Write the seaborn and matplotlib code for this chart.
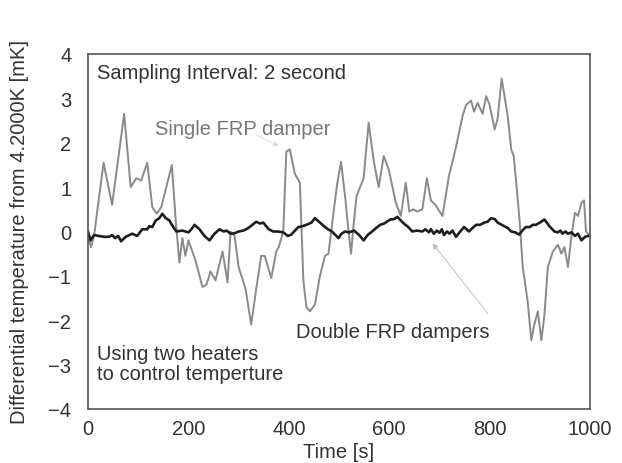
import matplotlib
matplotlib.use("Agg")
import matplotlib.pyplot as plt
import seaborn as sns
import pandas as pd

single_t = [0, 6, 12, 31, 48, 72, 85, 96, 106, 112, 118, 128, 137, 146, 167, 175, 182, 188, 194, 200,
            214, 228, 236, 244, 254, 268, 278, 284, 292, 300, 314, 325, 335, 345, 352, 365, 375, 380,
            389, 395, 402, 412, 422, 429, 435, 442, 452, 462, 472, 479, 486, 496, 504, 512, 519, 524,
            529, 535, 549, 559, 569, 579, 589, 599, 613, 623, 633, 640, 648, 656, 666, 675, 683, 692,
            706, 719, 733, 746, 753, 763, 769, 776, 786, 793, 800, 810, 816, 824, 829, 836, 843, 848,
            853, 860, 866, 876, 883, 889, 896, 903, 909, 916, 926, 936, 943, 949, 956, 963, 970, 976,
            983, 988, 992, 1000]
single_v = [-0.1, -0.35, -0.1, 1.55, 0.6, 2.65, 1.0, 1.2, 1.15, 1.35, 1.55, 0.55, 0.4, 0.55, 1.5, 0.2,
            -0.7, -0.15, -0.55, -0.2, -0.65, -1.25, -1.2, -0.9, -1.1, -0.45, -1.15, 0.0, -0.1, -0.8,
            -1.3, -2.1, -1.3, -0.55, -0.55, -1.05, -0.45, -0.35, 0.0, 1.8, 1.85, 1.3, 1.1, -1.1, -1.7,
            -1.8, -1.65, -1.0, -0.55, -0.5, 0.15, 1.05, 1.57, 0.8, 0.0, -0.5, 0.15, 0.8, 1.2, 2.45,
            1.6, 1.0, 1.7, 1.4, 0.65, 0.35, 1.1, 0.45, 0.5, 0.45, 0.5, 1.2, 0.7, 0.6, 0.35, 1.25, 1.9,
            2.6, 2.85, 2.95, 2.7, 2.9, 2.65, 3.05, 2.85, 2.3, 2.55, 3.45, 3.1, 2.6, 1.85, 1.7, 1.1, 0.2,
            -0.8, -1.6, -2.45, -2.1, -1.8, -2.45, -1.9, -0.8, -0.45, -0.3, -0.5, -0.35, -0.8, -0.1,
            0.42, 0.35, 0.65, 0.7, 0.0, -0.1]

double_t = [0, 5, 12, 21, 32, 42, 48, 54, 60, 66, 75, 88, 98, 108, 118, 122, 128, 135, 142, 148, 155,
            162, 167, 176, 188, 200, 206, 212, 222, 232, 242, 252, 262, 270, 276, 284, 292, 300, 309,
            315, 322, 335, 342, 349, 360, 369, 378, 389, 398, 405, 412, 419, 428, 435, 445, 452, 460,
            469, 478, 486, 499, 505, 512, 520, 530, 540, 549, 557, 566, 574, 582, 590, 602, 610, 616,
            629, 638, 646, 655, 666, 672, 679, 683, 689, 695, 700, 705, 709, 715, 720, 726, 733, 740,
            749, 754, 759, 766, 773, 781, 789, 796, 803, 810, 816, 829, 836, 843, 851, 859, 865, 872,
            880, 886, 892, 900, 909, 914, 919, 925, 929, 936, 941, 945, 951, 956, 963, 970, 976, 983,
            990, 996, 1000]
double_v = [0.0, -0.2, -0.08, -0.1, -0.12, -0.12, -0.08, -0.15, -0.1, -0.22, -0.12, -0.05, -0.1, 0.05,
            0.05, 0.12, 0.1, 0.25, 0.3, 0.4, 0.3, 0.25, 0.15, 0.0, 0.02, -0.02, 0.05, 0.15, 0.05, -0.1,
            -0.2, -0.05, 0.05, 0.0, 0.02, -0.05, -0.04, 0.0, 0.02, 0.05, 0.1, 0.22, 0.18, 0.2, 0.05,
            0.0, 0.0, -0.02, -0.1, -0.07, 0.02, 0.1, 0.12, 0.15, 0.2, 0.3, 0.22, 0.13, 0.05, 0.0, -0.15,
            -0.05, 0.0, -0.02, 0.02, -0.08, -0.2, -0.08, 0.0, 0.08, 0.15, 0.18, 0.27, 0.28, 0.33, 0.18,
            0.1, 0.0, 0.02, 0.0, 0.05, -0.02, 0.05, -0.05, 0.02, -0.03, 0.05, -0.08, 0.0, -0.05, 0.02,
            -0.12, -0.02, 0.1, 0.05, 0.0, 0.08, 0.15, 0.15, 0.2, 0.22, 0.3, 0.28, 0.2, 0.12, 0.08, 0.0,
            -0.02, -0.07, 0.02, 0.1, 0.1, 0.15, 0.15, 0.2, 0.27, 0.2, 0.12, 0.05, 0.0, -0.02, 0.02,
            -0.05, 0.0, -0.05, -0.02, -0.1, -0.05, -0.2, -0.12, -0.1, -0.1]

x_ticks = [0, 200, 400, 600, 800, 1000]
y_ticks = [-4, -3, -2, -1, 0, 1, 2, 3, 4]

sns.set_theme(style="white")
plt.rcParams['font.family'] = ['Liberation Sans', 'DejaVu Sans']

fig = plt.figure(figsize=(6.22, 4.64), dpi=100)
ax = fig.add_axes([0.1415, 0.1164, 0.8071, 0.7651])

df_s = pd.DataFrame({"t": single_t, "v": single_v})
df_d = pd.DataFrame({"t": double_t, "v": double_v})
sns.lineplot(data=df_s, x="t", y="v", ax=ax, color="#8a8a8a", lw=1.4, estimator=None, sort=False)
sns.lineplot(data=df_d, x="t", y="v", ax=ax, color="#1e1e1e", lw=1.9, estimator=None, sort=False)

ax.set_xlim(0, 1000)
ax.set_ylim(-4, 4)
ax.set_xticks(x_ticks)
ax.set_yticks(y_ticks)
ax.tick_params(axis='both', length=0, labelsize=14.5, colors="#333333")
ax.tick_params(axis='y', pad=12)
ax.tick_params(axis='x', pad=7)
for s in ax.spines.values():
    s.set_color("#555555")
    s.set_linewidth(1.2)

ax.set_xlabel("Time [s]", fontsize=14.5, color="#333333", labelpad=3)
ax.set_ylabel("Differential temperature from 4.2000K [mK]", fontsize=14.5, color="#333333", labelpad=14)

ax.text(18, 3.58, "Sampling Interval: 2 second", fontsize=14.5, color="#333333", ha="left", va="center")
ax.text(134, 2.33, "Single FRP damper", fontsize=14.5, color="#777777", ha="left", va="center")
ax.text(415, -2.26, "Double FRP dampers", fontsize=14.5, color="#333333", ha="left", va="center")
ax.text(18, -2.97, "Using two heaters\nto control temperture", fontsize=14.5, color="#333333",
        ha="left", va="center", linespacing=1.05)

ax.annotate("", xy=(385, 1.9), xytext=(330, 2.2),
            arrowprops=dict(arrowstyle="-|>", color="#dddddd", lw=0.5, mutation_scale=8))
ax.annotate("", xy=(683, -0.22), xytext=(800, -1.9),
            arrowprops=dict(arrowstyle="-|>", color="#bbbbbb", lw=0.6, mutation_scale=8))

fig.savefig("out.png", dpi=100)
